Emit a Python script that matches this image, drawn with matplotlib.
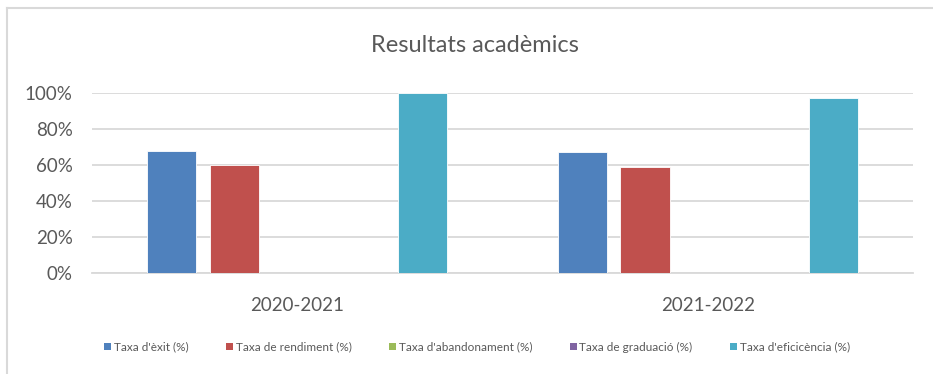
import numpy as np
import matplotlib.pyplot as plt
from matplotlib.patches import Patch
from matplotlib.lines import Line2D
from matplotlib.ticker import PercentFormatter

plt.rcParams['font.family'] = ['Lato', 'DejaVu Sans']

# Dades
cursos = ['2020-2021', '2021-2022']
series = ["Taxa d'èxit (%)", 'Taxa de rendiment (%)', "Taxa d'abandonament (%)",
          'Taxa de graduació (%)', "Taxa d'eficicència (%)"]
exit_ = [68, 67]
rendiment = [60, 59]
abandonament = [np.nan, np.nan]
graduacio = [np.nan, np.nan]
eficiencia = [100, 97.5]
valors = [exit_, rendiment, abandonament, graduacio, eficiencia]
colors = ['#4F81BD', '#C0504D', '#9BBB59', '#8064A2', '#4BACC6']

W, H = 933, 374
fig = plt.figure(figsize=(W / 100, H / 100), dpi=100)
ax = fig.add_axes([92 / W, 1 - 273 / H, (913 - 92) / W, (273 - 93) / H])

x = np.arange(len(cursos))
pas = 0.153
amplada = 0.12
for i, (v, c) in enumerate(zip(valors, colors)):
    ax.bar(x + (i - 2) * pas, v, amplada, color=c, edgecolor='white',
           linewidth=0.6, zorder=3)

ax.set_xlim(-0.5, 1.5)
ax.set_ylim(0, 100)
ax.set_yticks(np.arange(0, 101, 20))
ax.yaxis.set_major_formatter(PercentFormatter(decimals=0))
ax.grid(axis='y', color='#D9D9D9', linewidth=1.3, zorder=0)
ax.set_xticks(x)
ax.set_xticklabels(cursos)
for s in ['top', 'right', 'left']:
    ax.spines[s].set_visible(False)
ax.spines['bottom'].set_color('#D9D9D9')
ax.spines['bottom'].set_linewidth(1.3)
ax.tick_params(axis='both', length=0, labelsize=13.5, colors='#595959')
ax.tick_params(axis='y', pad=14)
ax.tick_params(axis='x', pad=17)

fig.text(475 / W, 1 - 46 / H, 'Resultats acadèmics', ha='center', va='center',
         fontsize=17, color='#595959')

handles = [Patch(facecolor=c, edgecolor='none') for c in colors]
fig.legend(handles, series, loc='center', bbox_to_anchor=(477 / W, 1 - 347 / H),
           ncol=5, frameon=False, fontsize=8.5, handlelength=0.6, handleheight=0.6,
           handletextpad=0.2, columnspacing=3.2, labelcolor='#595959')

# vora del gràfic
fig.add_artist(Line2D([6.5 / W, 1], [1 - 8 / H, 1 - 8 / H], color='#D9D9D9', linewidth=1.5))
fig.add_artist(Line2D([6.5 / W, 6.5 / W], [0, 1 - 8 / H], color='#D9D9D9', linewidth=1.5))

fig.savefig('out.png', dpi=100)
